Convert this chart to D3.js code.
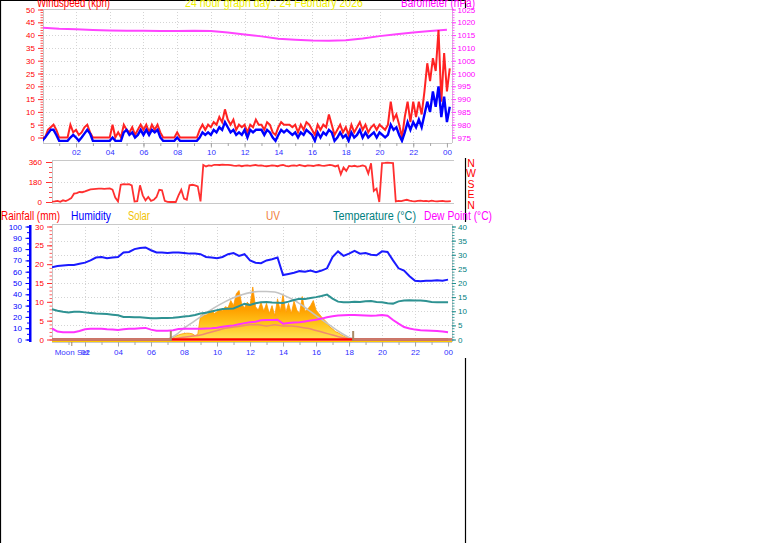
<!DOCTYPE html>
<html><head><meta charset="utf-8">
<script src="https://cdn.jsdelivr.net/npm/d3@7"></script>
<style>
html,body{margin:0;padding:0;background:#fff;overflow:hidden}
svg{display:block}
</style></head><body>
<svg id="c" width="761" height="543"></svg>
<script>
// ================= DATA =================
const titleText = "24 hour graph day : 24 February 2026";
const windTitle = "Windspeed (kph)";
const baroTitle = "Barometer (hPa)";
const panel3Titles = ["Rainfall (mm)", "Humidity", "Solar", "UV", "Temperature (°C)", "Dew Point (°C)"];
const compassLabels = ["N", "W", "S", "E", "N"];
const moonLabel = "Moon Set";

const hourTicks = [2, 4, 6, 8, 10, 12, 14, 16, 18, 20, 22, 24];
const hourTickLabels = ["02", "04", "06", "08", "10", "12", "14", "16", "18", "20", "22", "00"];
const windTicks = [0, 5, 10, 15, 20, 25, 30, 35, 40, 45, 50];
const baroTicks = [975, 980, 985, 990, 995, 1000, 1005, 1010, 1015, 1020, 1025];
const dirTicks = [0, 180, 360];
const humTicks = [0, 10, 20, 30, 40, 50, 60, 70, 80, 90, 100];
const rainTicks = [0, 5, 10, 15, 20, 25, 30];
const tempTicks = [0, 5, 10, 15, 20, 25, 30, 35, 40];

// sample spacing (hours)
const step10 = 1 / 6, step20 = 1 / 3, step30 = 1 / 2, step60 = 1;

// wind gust (kph), every 10 min from 00:00
const windGust = [0,0,3,4,5,3,0,0,0,0,
 5,2,3,1,2,4,5,2,0,0,
 0,0,0,0,0,5,0,2,0,5,
 3,2,4,1,3,5,3,5,2,5,
 3,5,2,0,0,0,0,0,2,0,
 0,0,0,0,0,0,3,5,3,5,
 4,6,5,8,6,11,7,5,7,3,
 5,4,5,2,5,4,7,5,5,3,
 6,5,2,1,4,6,5,5,5,4,
 5,2,5,3,6,5,3,1,5,3,
 5,4,9,5,1,3,5,2,4,1,
 5,2,4,6,3,5,2,4,5,3,
 5,4,3,5,14,7,9,5,0,8,
 14,6,14,8,14,9,18,29,22,31,
 26,42,14,33,18,27];
// wind speed (kph), every 10 min
const windSpeed = [-1.3,0,1.5,3,3,1,-1.3,-1.3,-1.3,-1.3,
 0,1,0,-1.3,0,1.5,3,1.5,-1.3,-1.3,
 -1.3,-1.3,-1.3,-1.3,-1.3,0,-1.3,-1.3,-1.3,2,
 3,1,2,0,1,3,1,3,1,3,
 2,3,0,-1.3,-1.3,-1.3,-1.3,-1.3,0,-1.3,
 -1.3,-1.3,-1.3,-1.3,-1.3,-1.3,0,2,1,2,
 1,3,2,4,3,6,4,2,3,1,
 2,1,3,0,3,2,3,3,3,1,
 3,2,0,-1.3,1,3,2,3,2,1,
 2,0,2,1,3,2,1,-1.3,2,0,
 2,1,3,2,-1.3,0,2,0,1,-1.3,
 2,0,1,3,0,2,0,1,2,0,
 2,1,0,1,5,3,4,1,-1.3,2,
 6,3,6,4,7,4,9,14,10,18,
 12,20,8,16,6,12];
// wind direction (deg), every 10 min
const windDir = [3,5,10,2,15,8,20,35,75,80,
 90,88,95,105,114,116,118,120,120,118,
 120,122,112,40,5,155,160,158,160,150,
 5,8,150,60,15,45,10,20,45,110,
 105,10,2,0,0,0,60,110,30,20,
 150,155,150,140,5,333,320,330,325,335,
 335,333,336,334,335,332,328,325,330,322,
 328,330,325,330,333,328,330,325,322,326,
 330,328,322,330,333,325,320,328,330,326,
 333,328,322,330,327,324,330,333,328,325,
 330,334,330,320,330,250,310,280,325,320,
 326,318,322,330,320,255,348,100,120,0,
 350,352,355,353,350,5,10,8,15,20,
 12,8,5,10,12,8,10,6,12,8,
 5,8,10,6,5,8];
// barometer (hPa), hourly
const baroHourly = [1017.9,1017.5,1017.3,1017.0,1016.8,1016.7,1016.7,1016.6,1016.6,1016.7,
 1016.6,1016.0,1015.2,1014.5,1013.6,1013.2,1012.9,1012.8,1013.0,1013.7,
 1014.6,1015.3,1016.0,1016.6,1017.1];
// humidity (%), every 20 min
const humidity = [64,65,65.5,66,66,67,68,70,72.5,73,
 72,72.5,73,77,77.5,80,81,81.5,79,77,
 77,76.5,77,77,76.5,76,76,75.5,73,72.5,
 72,73,75.5,76.5,74,75.5,70,68,67.5,70,
 71,72.5,57,58,59,60.5,60,61,59.5,61,
 63,73,78,74,76,78.5,76,76.5,75,74.5,
 78,77.5,70,63,61,56,52,51.5,52,52,
 52.5,52,53];
// temperature (°C), every 20 min
const temperature = [10.7,10.2,9.8,9.6,9.8,9.8,9.6,9.4,9.2,9.1,
 9.0,8.8,8.6,8.0,8.0,7.9,7.9,7.7,7.5,7.5,
 7.6,7.6,7.7,7.9,8.1,8.3,8.7,9.2,9.5,9.9,
 10.4,10.8,10.9,11.0,11.8,12.6,12.2,12.8,13.2,13.3,
 13.1,13.0,12.9,13.4,14.0,14.4,14.3,14.7,15.0,15.4,
 15.9,14.5,13.4,13.2,13.2,13.4,13.3,13.5,13.6,13.3,
 13.2,12.8,12.7,13.5,13.8,13.9,13.8,13.8,13.6,13.3,
 13.2,13.2,13.2];
// dew point (°C), every 20 min
const dewPoint = [3.9,2.8,2.6,2.6,2.6,3.0,3.6,3.8,3.8,3.8,
 3.6,3.5,3.4,3.6,3.8,3.8,4.0,4.1,3.5,3.1,
 3.1,3.1,3.3,3.7,3.8,3.8,3.8,3.8,3.9,4.0,
 4.2,4.5,4.8,5.0,5.4,5.8,6.1,6.3,6.8,6.9,
 6.9,7.0,5.6,5.8,6.0,6.1,6.4,6.7,7.0,7.4,
 7.9,8.2,8.5,8.6,8.7,8.7,8.6,8.5,8.4,8.5,
 8.7,8.4,6.9,5.6,4.4,3.9,3.5,3.3,3.2,3.1,
 3.0,2.8,2.6];
// solar radiation (W/m²), every 10 min
const solar = [0,0,0,0,0,0,0,0,0,0,
 0,0,0,0,0,0,0,0,0,0,
 0,0,0,0,0,0,0,0,0,0,
 0,0,0,0,0,0,0,0,0,0,
 0,0,0,0,15,30,40,48,52,56,
 55,50,35,45,210,225,215,235,260,230,
 245,270,255,290,280,345,300,405,434,310,
 280,330,300,465,290,260,330,250,320,230,
 300,210,360,250,400,240,320,230,340,260,
 230,380,250,270,300,345,260,230,200,175,
 150,110,95,70,60,45,32,20,12,3,
 0,0,0,0,0,0,0,0,0,0,
 0,0,0,0,0,0,0,0,0,0,
 0,0,0,0,0,0,0,0,0,0,
 0,0,0,0,0,0];
// theoretical max solar (W/m²), every 30 min
const solarMax = [0,0,0,0,0,0,0,0,0,0,
 0,0,0,0,0,40,100,150,200,250,
 295,335,370,395,415,425,425,420,395,360,
 318,265,212,160,109,60,18,0,0,0,
 0,0,0,0,0,0,0,0,0];
// UV index, every 30 min
const uvIndex = [0,0,0,0,0,0,0,0,0,0,
 0,0,0,0,0,0.1,0.2,0.3,0.4,0.6,
 0.8,1.0,1.1,1.2,1.3,1.3,1.2,1.3,1.2,1.2,
 1.1,1.0,0.8,0.6,0.4,0.2,0.05,0,0,0,
 0,0,0,0,0,0,0,0,0];
// rainfall (mm), hourly
const rainfall = [0,0,0,0,0,0,0,0,0,0,0,0,0,0,0,0,0,0,0,0,0,0,0,0,0];
// events (hours)
const sunriseHour = 7.2, sunsetHour = 18.25, moonsetHour = 1.2;

// ================= DRAW =================
const FONT = '"Liberation Sans", Arial, Helvetica, sans-serif';
const svg = d3.select("#c").attr("font-family", FONT);
const ser = (arr, st) => arr.map((v, i) => ({ t: i * st, v }));

// scales
const x1 = d3.scaleLinear().domain([0, 24.3]).range([42.3, 452]);
const yWind = d3.scaleLinear().domain([0, 50]).range([137.5, 9.5]);
const yBaro = d3.scaleLinear().domain([975, 1025]).range([137.5, 9.5]);
const x2 = d3.scaleLinear().domain([0, 24.3]).range([52, 453]);
const yDir = d3.scaleLinear().domain([0, 360]).range([202, 162]);
const x3 = x2;
const yTemp = d3.scaleLinear().domain([0, 40]).range([339.5, 226.5]);
const yHum = d3.scaleLinear().domain([0, 100]).range([339.5, 226.5]);
const yRain = d3.scaleLinear().domain([0, 30]).range([339.5, 226.5]);
const ySolar = d3.scaleLinear().domain([0, 1000]).range([339.5, 226.5]);
const yUV = d3.scaleLinear().domain([0, 10]).range([339.5, 226.5]);

const P1 = { l: 43, r: 452, t: 9, b: 143 };
const P2 = { l: 52, r: 454, t: 160, b: 203 };
const P3 = { l: 52, r: 452, t: 224, b: 342 };

// page borders
const border = svg.append("g").attr("stroke", "#000").attr("stroke-width", 1.2);
border.append("line").attr("x1", 0.5).attr("x2", 0.5).attr("y1", 0).attr("y2", 543);
border.append("line").attr("x1", 0).attr("x2", 466).attr("y1", 0.5).attr("y2", 0.5);
[[0, 8], [158, 222], [358, 543]].forEach(s =>
  border.append("line").attr("x1", 465.5).attr("x2", 465.5).attr("y1", s[0]).attr("y2", s[1]));

const defs = svg.append("defs");
function clip(id, P) {
  defs.append("clipPath").attr("id", id).append("rect")
    .attr("x", P.l).attr("y", P.t).attr("width", P.r - P.l).attr("height", P.b - P.t);
}
clip("c1", P1); clip("c2", P2); clip("c3", P3);

function frame(P, sides) {
  const g = svg.append("g").attr("stroke", "#c8c8c8").attr("stroke-width", 1);
  if (sides.includes("t")) g.append("line").attr("x1", P.l).attr("x2", P.r).attr("y1", P.t + 0.5).attr("y2", P.t + 0.5);
  if (sides.includes("b")) g.append("line").attr("x1", P.l).attr("x2", P.r).attr("y1", P.b + 0.5).attr("y2", P.b + 0.5);
  if (sides.includes("l")) g.append("line").attr("x1", P.l + 0.5).attr("x2", P.l + 0.5).attr("y1", P.t).attr("y2", P.b);
  if (sides.includes("r")) g.append("line").attr("x1", P.r + 0.5).attr("x2", P.r + 0.5).attr("y1", P.t).attr("y2", P.b);
}
function hGrid(P, scale, vals) {
  svg.append("g").selectAll("line").data(vals).join("line")
    .attr("x1", P.l).attr("x2", P.r)
    .attr("y1", d => Math.round(scale(d)) + 0.5).attr("y2", d => Math.round(scale(d)) + 0.5)
    .attr("stroke", "#d4d4d4").attr("stroke-dasharray", "1,2");
}
function vGrid(P, scale, vals) {
  svg.append("g").selectAll("line").data(vals).join("line")
    .attr("y1", P.t).attr("y2", P.b)
    .attr("x1", d => Math.round(scale(d)) + 0.5).attr("x2", d => Math.round(scale(d)) + 0.5)
    .attr("stroke", "#d4d4d4").attr("stroke-dasharray", "1,2");
}
function styleAxis(g, tickColor, textColor) {
  g.select(".domain").remove();
  g.selectAll(".tick line").attr("stroke", tickColor);
  g.selectAll(".tick text").attr("fill", textColor).attr("font-size", 8).attr("font-family", FONT);
}
function axis(gen, tx, ty, tickColor, textColor) {
  const g = svg.append("g").attr("transform", `translate(${tx},${ty})`).call(gen);
  styleAxis(g, tickColor, textColor);
  return g;
}
const plain = d3.format("d");

// ---------- Panel 1 : wind & barometer ----------
hGrid(P1, yWind, windTicks.slice(1, -1));
vGrid(P1, x1, hourTicks.slice(0, -1));
frame(P1, "tblr");
axis(d3.axisLeft(yWind).tickValues(d3.range(0, 51, 1)).tickSize(2.5).tickFormat(""), P1.l, 0, "#ff5050", "#f00");
axis(d3.axisLeft(yWind).tickValues(windTicks).tickSize(5).tickPadding(3).tickFormat(plain), P1.l, 0, "#ff3030", "#ff0000");
axis(d3.axisRight(yBaro).tickValues(d3.range(975, 1026, 1)).tickSize(2.5).tickFormat(""), P1.r, 0, "#ff60ff", "#f0f");
axis(d3.axisRight(yBaro).tickValues(baroTicks).tickSize(4).tickPadding(1.5).tickFormat(plain), P1.r, 0, "#ff40ff", "#ff00ff");
axis(d3.axisBottom(x1).tickValues(d3.range(1, 25, 1)).tickSize(3).tickFormat(""), 0, P1.b, "#a8a8a8", "#000");
axis(d3.axisBottom(x1).tickValues(hourTicks).tickSize(4.5).tickPadding(2)
  .tickFormat((d, i) => hourTickLabels[i]), 0, P1.b, "#a8a8a8", "#2f2fff");

const g1 = svg.append("g").attr("clip-path", "url(#c1)");
g1.append("path").datum(ser(baroHourly, step60))
  .attr("d", d3.line().x(d => x1(d.t)).y(d => yBaro(d.v)))
  .attr("fill", "none").attr("stroke", "#ff44ff").attr("stroke-width", 2);
g1.append("path").datum(ser(windGust, step10))
  .attr("d", d3.line().x(d => x1(d.t)).y(d => yWind(d.v)))
  .attr("fill", "none").attr("stroke", "#ff1010").attr("stroke-width", 2).attr("opacity", 0.92);
g1.append("path").datum(ser(windSpeed, step10))
  .attr("d", d3.line().x(d => x1(d.t)).y(d => yWind(d.v)))
  .attr("fill", "none").attr("stroke", "#0000ff").attr("stroke-width", 2.4);

// ---------- Panel 2 : wind direction ----------
hGrid(P2, yDir, [180]);
frame(P2, "tbl");
axis(d3.axisLeft(yDir).tickValues(d3.range(0, 361, 45)).tickSize(3).tickFormat(""), P2.l, 0, "#ff5050", "#f00");
axis(d3.axisLeft(yDir).tickValues(dirTicks).tickSize(6).tickPadding(4).tickFormat(plain), P2.l, 0, "#ff3030", "#ff0000");
svg.append("g").attr("clip-path", "url(#c2)")
  .append("path").datum(ser(windDir, step10))
  .attr("d", d3.line().x(d => x2(d.t)).y(d => yDir(d.v)))
  .attr("fill", "none").attr("stroke", "#ff3030").attr("stroke-width", 1.8);
svg.append("g").selectAll("text").data(compassLabels).join("text")
  .attr("x", 471).attr("y", (d, i) => 166.5 + i * 10.5)
  .attr("text-anchor", "middle").attr("font-size", 10.5).attr("fill", "#ff0000").text(d => d);

// ---------- Panel 3 ----------
hGrid(P3, yTemp, tempTicks.slice(1, -1));
vGrid(P3, x3, hourTicks.slice(0, -1));
frame(P3, "tlr");
svg.append("rect").attr("x", 29).attr("y", 225).attr("width", 2.5).attr("height", 117).attr("fill", "#0000ff");
axis(d3.axisLeft(yHum).tickValues(d3.range(0, 101, 5)).tickSize(2).tickFormat(""), 29, 0, "#0000ff", "#00f");
axis(d3.axisLeft(yHum).tickValues(humTicks).tickSize(3.5).tickPadding(3.5).tickFormat(plain), 29, 0, "#0000ff", "#0000ff");
axis(d3.axisLeft(yRain).tickValues(d3.range(0, 31, 1)).tickSize(2.5).tickFormat(""), P3.l, 0, "#ff6060", "#f00");
axis(d3.axisLeft(yRain).tickValues(rainTicks).tickSize(5).tickPadding(3).tickFormat(plain), P3.l, 0, "#ff3030", "#ff0000");
axis(d3.axisRight(yTemp).tickValues(d3.range(0, 41, 1)).tickSize(2.5).tickFormat(""), P3.r, 0, "#40a0a0", "#088");
axis(d3.axisRight(yTemp).tickValues(tempTicks).tickSize(4).tickPadding(2).tickFormat(plain), P3.r, 0, "#209090", "#008080");

const g3 = svg.append("g").attr("clip-path", "url(#c3)");
const grad = defs.append("linearGradient").attr("id", "sg").attr("gradientUnits", "userSpaceOnUse")
  .attr("x1", 0).attr("x2", 0).attr("y1", ySolar(470)).attr("y2", ySolar(0));
[[0, "#ff8c00"], [0.45, "#ffa200"], [0.7, "#ffc41a"], [1, "#ffe45a"]].forEach(s =>
  grad.append("stop").attr("offset", s[0]).attr("stop-color", s[1]));
g3.append("path").datum(ser(solar, step10))
  .attr("d", d3.area().x(d => x3(d.t)).y0(ySolar(0)).y1(d => ySolar(d.v)))
  .attr("fill", "url(#sg)").attr("stroke", "#ff9a00").attr("stroke-width", 0.8);
const sm = ser(solarMax, step30).filter((d, i, a) => d.v > 0 || (a[i - 1] && a[i - 1].v > 0) || (a[i + 1] && a[i + 1].v > 0));
g3.append("path").datum(sm)
  .attr("d", d3.line().x(d => x3(d.t)).y(d => ySolar(d.v)).curve(d3.curveMonotoneX))
  .attr("fill", "none").attr("stroke", "#c4c4c4").attr("stroke-width", 1.6);
g3.append("path").datum(ser(uvIndex, step30).filter(d => d.t >= 7 && d.t <= 18.5))
  .attr("d", d3.line().x(d => x3(d.t)).y(d => yUV(d.v)).curve(d3.curveMonotoneX))
  .attr("fill", "none").attr("stroke", "#f08a70").attr("stroke-width", 1.5);
const lineT = (scale) => d3.line().x(d => x3(d.t)).y(d => scale(d.v));
g3.append("path").datum(ser(humidity, step20)).attr("d", lineT(yHum))
  .attr("fill", "none").attr("stroke", "#1a1aff").attr("stroke-width", 2);
g3.append("path").datum(ser(temperature, step20)).attr("d", lineT(yTemp))
  .attr("fill", "none").attr("stroke", "#2e9292").attr("stroke-width", 2);
g3.append("path").datum(ser(dewPoint, step20)).attr("d", lineT(yTemp))
  .attr("fill", "none").attr("stroke", "#ff33ff").attr("stroke-width", 2);
g3.append("line").attr("x1", P3.l).attr("x2", P3.r)
  .attr("y1", yRain(0) + 2.3).attr("y2", yRain(0) + 2.3).attr("stroke", "#ffcc00").attr("stroke-width", 1.6);
g3.append("path").datum(ser(rainfall, step60))
  .attr("d", d3.line().x(d => x3(d.t)).y(d => yRain(d.v)))
  .attr("fill", "none").attr("stroke", "#ff0000").attr("stroke-width", 2.6);
[[0, sunriseHour], [sunsetHour, 24.3]].forEach(r =>
  g3.append("rect").attr("x", x3(r[0])).attr("width", x3(r[1]) - x3(r[0]))
    .attr("y", yRain(0) - 1.4).attr("height", 2.8).attr("fill", "#c87a6c"));
[sunriseHour, sunsetHour].forEach(h =>
  svg.append("rect").attr("x", x3(h) - 1).attr("width", 2).attr("y", 331).attr("height", 10).attr("fill", "#a88a66"));
frame(P3, "b");
axis(d3.axisBottom(x3).tickValues(d3.range(1, 25, 1)).tickSize(3).tickFormat(""), 0, P3.b, "#a8a8a8", "#000");
svg.append("line").attr("x1", x3(moonsetHour)).attr("x2", x3(moonsetHour))
  .attr("y1", P3.b).attr("y2", P3.b + 4).attr("stroke", "#a08060");
svg.append("text").attr("x", x3(moonsetHour)).attr("y", P3.b + 13).attr("text-anchor", "middle")
  .attr("font-size", 8).attr("fill", "#3a3aff").text(moonLabel);
axis(d3.axisBottom(x3).tickValues(hourTicks).tickSize(4.5).tickPadding(3)
  .tickFormat((d, i) => hourTickLabels[i]), 0, P3.b, "#a8a8a8", "#2f2fff");

// ---------- Titles ----------
function label(text, x, y, w, color) {
  svg.append("text").attr("x", x).attr("y", y).attr("font-size", 12).attr("fill", color)
    .attr("textLength", w).attr("lengthAdjust", "spacingAndGlyphs").text(text);
}
label(windTitle, 37, 7, 73, "#ff0000");
label(titleText, 185, 7, 178, "#f0f000");
label(baroTitle, 401, 7, 74, "#ff00ff");
const p3pos = [[1, 59], [71, 40], [128, 22], [266, 14], [333, 83], [424, 68]];
const p3col = ["#ff0000", "#0000ff", "#f2c200", "#f08040", "#008080", "#ff00ff"];
panel3Titles.forEach((t, i) => label(t, p3pos[i][0], 220, p3pos[i][1], p3col[i]));
</script>
</body></html>
